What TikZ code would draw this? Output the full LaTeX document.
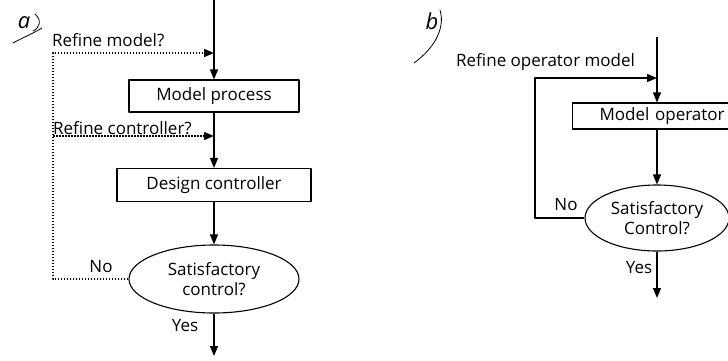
\documentclass[tikz,border=0pt]{standalone}
\usepackage{fontspec}
\setmainfont{Open Sans}
\usetikzlibrary{arrows.meta}
\usetikzlibrary{calc}
\usetikzlibrary{positioning}
\usetikzlibrary{shapes.geometric}

\begin{document}
\begin{tikzpicture}[x=1pt, y=-1pt, line cap=butt, line join=round,
    every node/.style={font=\fontsize{17}{20}\selectfont, text=black},
    procbox/.style={draw, line width=1.1pt, rectangle, inner sep=0pt},
    decision/.style={draw, line width=1.1pt, ellipse, inner sep=0pt, align=center},
    flow/.style={line width=1.3pt, -{Triangle[length=10pt,width=8pt]}},
    retry/.style={line width=1.4pt, dash pattern=on 1.5pt off 1.5pt, -{Triangle[length=10pt,width=8pt]}},
    hand/.style={line width=0.8pt, line cap=round}]
    % frame
    \useasboundingbox (0,0) rectangle (728,360);
    \clip (0,0) rectangle (728,360);

    % ---- a) ----
    \node[font=\fontsize{22}{24}\itshape] (tagA) at (24,23) {a};
    \draw[hand] (35,14) .. controls (42,20) and (40,28) .. (33,31);
    \draw[hand] (13,43) .. controls (22,38) and (32,34) .. (42,28);

    \node[procbox, minimum width=170, minimum height=32] (model) at (214,96) {Model process};
    \node[procbox, minimum width=194, minimum height=33] (design) at (214,185) {Design controller};
    \node[decision, minimum width=170, minimum height=68] (satA) at (214,279) {Satisfactory\\control?};

    \coordinate (topA) at (214,0);
    \coordinate (refm) at (214,53);
    \coordinate (refc) at (214,136);
    \coordinate (leftA) at (53,53);
    \coordinate (endA) at (214,356);

    \draw[flow] (topA) -- (model);
    \draw[flow] (model) -- (design);
    \draw[flow] (design) -- (satA);
    \draw[flow] (satA) -- (endA);
    \draw[retry] (satA.west) -| (leftA) -- (refm);
    \draw[retry] (leftA |- refc) -- (refc);

    \node[anchor=west, inner sep=0pt] (lblm) at (52,40) {Refine model?};
    \node[anchor=west, inner sep=0pt] (lblc) at (53,128) {Refine controller?};
    \node (noA) at (101,267) {No};
    \node (yesA) at (185,326) {Yes};

    % ---- b) ----
    \node[font=\fontsize{22}{24}\itshape] (tagB) at (432,21) {b};
    \draw[hand] (440,10) .. controls (446,30) and (432,50) .. (414,63);

    \node[procbox, text width=143, align=left, inner xsep=27, minimum height=26, anchor=west] (oper) at (572,116) {Model operator};
    \node[decision, minimum width=144, minimum height=66] (satB) at (657,218) {Satisfactory\\Control?};

    \coordinate (topB) at (657,37);
    \coordinate (refo) at (657,78);
    \coordinate (leftB) at (535,78);
    \coordinate (endB) at (657,298);

    \draw[flow] (topB) -- (oper.north -| topB);
    \draw[flow] (oper.south -| topB) -- (satB);
    \draw[flow] (satB) -- (endB);
    \draw[flow] (satB.west) -| (leftB) -- (refo);

    \node[anchor=west, inner sep=0pt] (lblo) at (456,62) {Refine operator model};
    \node (noB) at (566,205) {No};
    \node (yesB) at (639,268) {Yes};
\end{tikzpicture}
\end{document}
